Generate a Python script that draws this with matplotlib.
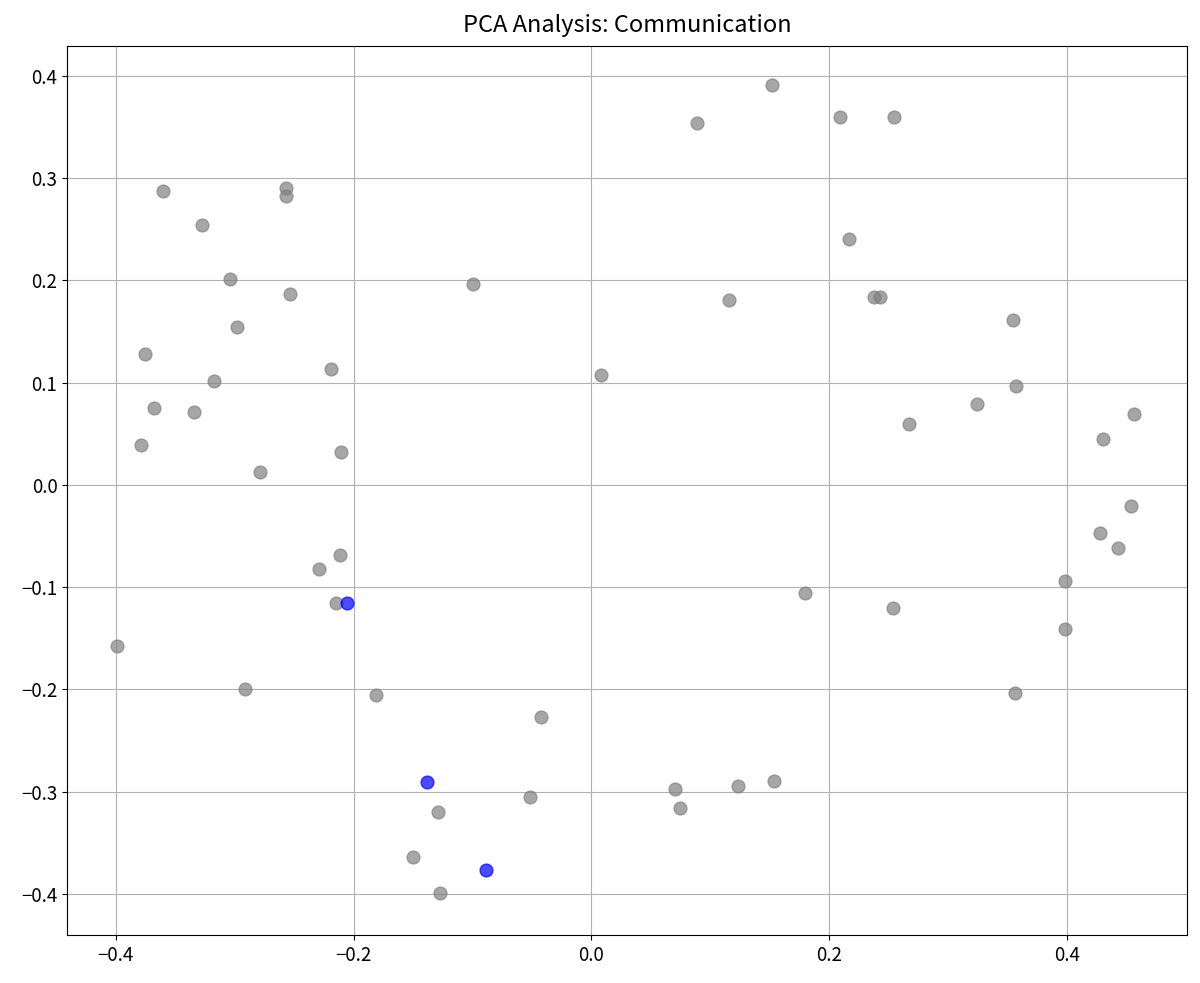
import matplotlib
matplotlib.use("Agg")
import matplotlib.pyplot as plt

plt.rcParams['font.family'] = ['Noto Sans CJK SC', 'DejaVu Sans']

gray_x = [0.1516, 0.0893, 0.2088, 0.2543, -0.360, -0.2568, -0.2568, -0.328, 0.2164, -0.304,
          -0.2535, -0.0994, 0.1162, 0.2375, 0.2425, -0.298, 0.3545, -0.3756, -0.219, -0.3175,
          0.0084, -0.368, -0.334, 0.357, 0.3242, 0.267, 0.4564, 0.4303, -0.379, -0.2105,
          -0.2787, 0.4539, 0.4278, 0.443, -0.2114, -0.229, 0.3983, -0.2147, 0.1794, 0.2535,
          0.3983, -0.3992, -0.2914, -0.181, 0.3562, -0.0421, 0.0707, 0.1238, 0.1541, 0.0749,
          -0.0514, -0.1288, -0.1499, -0.1272]
gray_y = [0.391, 0.354, 0.360, 0.360, 0.2875, 0.290, 0.2826, 0.254, 0.2406, 0.2015,
          0.1868, 0.1966, 0.1809, 0.1839, 0.1839, 0.1545, 0.1614, 0.1281, 0.1134, 0.1017,
          0.1076, 0.0753, 0.0714, 0.0968, 0.0792, 0.0597, 0.0694, 0.045, 0.0391, 0.0323,
          0.0127, -0.0205, -0.0469, -0.0616, -0.0685, -0.0822, -0.0939, -0.1154, -0.1056, -0.1203,
          -0.1408, -0.1575, -0.1995, -0.2054, -0.2034, -0.2269, -0.2973, -0.2944, -0.2895, -0.3159,
          -0.3051, -0.3198, -0.3638, -0.399]
blue_x = [-0.2055, -0.1381, -0.0884]
blue_y = [-0.1154, -0.2905, -0.3765]

fig, ax = plt.subplots(figsize=(12, 9.83), dpi=100)
fig.subplots_adjust(left=0.056, right=0.989, bottom=0.049, top=0.953)
ax.scatter(gray_x, gray_y, s=85, c='gray', alpha=0.7, linewidths=1, zorder=3)
ax.scatter(blue_x, blue_y, s=85, c='blue', alpha=0.7, linewidths=1, zorder=3)
ax.set_xlim(-0.441, 0.501)
ax.set_ylim(-0.440, 0.429)
ax.grid(True, zorder=0)
ax.set_axisbelow(True)
ax.tick_params(labelsize=13.5)
ax.set_title('PCA Analysis: Communication', fontsize=17, pad=10)
fig.savefig('out.png')
